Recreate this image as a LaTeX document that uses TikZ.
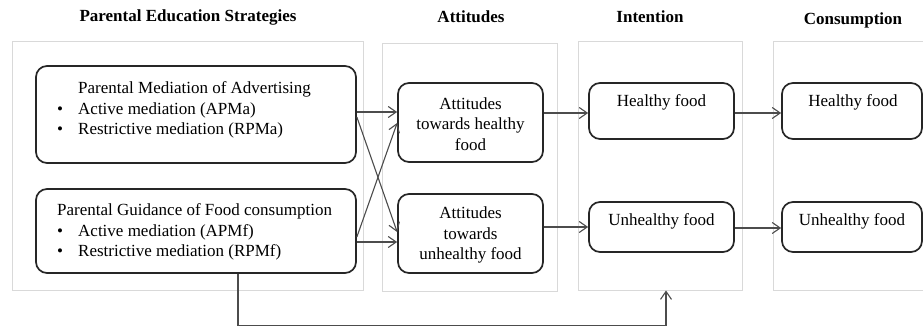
\documentclass[tikz,border=0pt]{standalone}
\usepackage{fontspec}
\setmainfont{Liberation Serif}
\usetikzlibrary{arrows.meta,calc}
\begin{document}
\begin{tikzpicture}[x=1pt,y=-1pt,
  panel/.style={draw=black!15,line width=0.9pt,fill=none},
  box/.style={draw=black!85,line width=1.7pt,rounded corners=11pt,inner sep=0pt},
  txt/.style={font=\fontsize{17}{20.6}\selectfont,inner sep=0pt,align=center},
  head/.style={font=\fontsize{17}{20.6}\selectfont\bfseries,inner sep=0pt},
  arr/.style={draw=black!70,line width=1.1pt,-{Straight Barb[length=8pt,width=11pt,line width=1.1pt]}}]
\useasboundingbox (0,0) rectangle (923,328);
\fill[white] (0,0) rectangle (923,328);
% panels
\node[panel,minimum width=351pt,minimum height=249pt,inner sep=0pt] (P1) at (187.5,165.5) {};
\node[panel,minimum width=175pt,minimum height=248pt,inner sep=0pt] (P2) at (469.5,167) {};
\node[panel,minimum width=164pt,minimum height=249pt,inner sep=0pt] (P3) at (660,165.5) {};
\node[panel,minimum width=157pt,minimum height=249pt,inner sep=0pt] (P4) at (851.5,165.5) {};
% headings
\node[head] (H1) at (188,17) {Parental Education Strategies};
\node[head] (H2) at (471,17) {Attitudes};
\node[head] (H3) at (650,17) {Intention};
\node[head] (H4) at (853,20) {Consumption};
% boxes
\node[box,minimum width=320pt,minimum height=97pt] (A) at (196,114.5) {};
\node[box,minimum width=320pt,minimum height=84pt] (B) at (196,231) {};
\node[box,minimum width=145pt,minimum height=79pt] (C) at (470.5,122.5) {};
\node[box,minimum width=145pt,minimum height=79pt] (D) at (470.5,233.5) {};
\node[box,minimum width=145pt,minimum height=56pt] (E) at (661.5,111) {};
\node[box,minimum width=145pt,minimum height=50pt] (F) at (661.5,227) {};
\node[box,minimum width=140pt,minimum height=56pt] (G) at (852,111) {};
\node[box,minimum width=140pt,minimum height=50pt] (H) at (852,227) {};
% texts
\node[txt,anchor=west,align=left] (At) at (57,110) {%
  \begin{tabular}{@{}p{21pt}@{}l@{}}
  & Parental Mediation of Advertising\\
  \textbullet & Active mediation (APMa)\\
  \textbullet & Restrictive mediation (RPMa)
  \end{tabular}};
\node[txt,anchor=west,align=left] (Bt) at (57,232) {%
  \begin{tabular}{@{}p{21pt}@{}l@{}}
  \multicolumn{2}{@{}l@{}}{Parental Guidance of Food consumption}\\
  \textbullet & Active mediation (APMf)\\
  \textbullet & Restrictive mediation (RPMf)
  \end{tabular}};
\node[txt] (Ct) at (470.5,124) {Attitudes\\towards healthy\\food};
\node[txt] (Dt) at (470.5,235) {Attitudes\\towards\\unhealthy food};
\node[txt] (Et) at (661.5,102) {Healthy food};
\node[txt] (Ft) at (661.5,221) {Unhealthy food};
\node[txt] (Gt) at (853,102) {Healthy food};
\node[txt] (Ht) at (852,221) {Unhealthy food};
% connectors
\coordinate (a1) at ($(A.east)+(0,-2.5)$);
\coordinate (a2) at ($(A.east)+(0,2.5)$);
\coordinate (b1) at ($(B.east)+(0,6)$);
\coordinate (b2) at ($(B.east)+(0,11)$);
\draw[arr] (a1) -- (a1 -| C.west);
\draw[arr] (a2) -- ($(D.west)+(0,-1.5)$);
\draw[arr] (b1) -- ($(C.west)+(0,0.5)$);
\draw[arr] (b2) -- (b2 -| D.west);
\coordinate (c1) at ($(C.east)+(0,-9.5)$);
\draw[arr] (c1) -- (c1 -| E.west);
\coordinate (d1) at ($(D.east)+(0,-6.5)$);
\draw[arr] (d1) -- (d1 -| F.west);
\coordinate (e1) at ($(E.east)+(0,2)$);
\draw[arr] (e1) -- (e1 -| G.west);
\coordinate (f1) at ($(F.east)+(0,1)$);
\draw[arr] (f1) -- (f1 -| H.west);
\draw[arr] ($(B.south)+(42,0)$) -- ++(0,52) -| ($(P3.south)+(6,0)$);
\end{tikzpicture}
\end{document}
